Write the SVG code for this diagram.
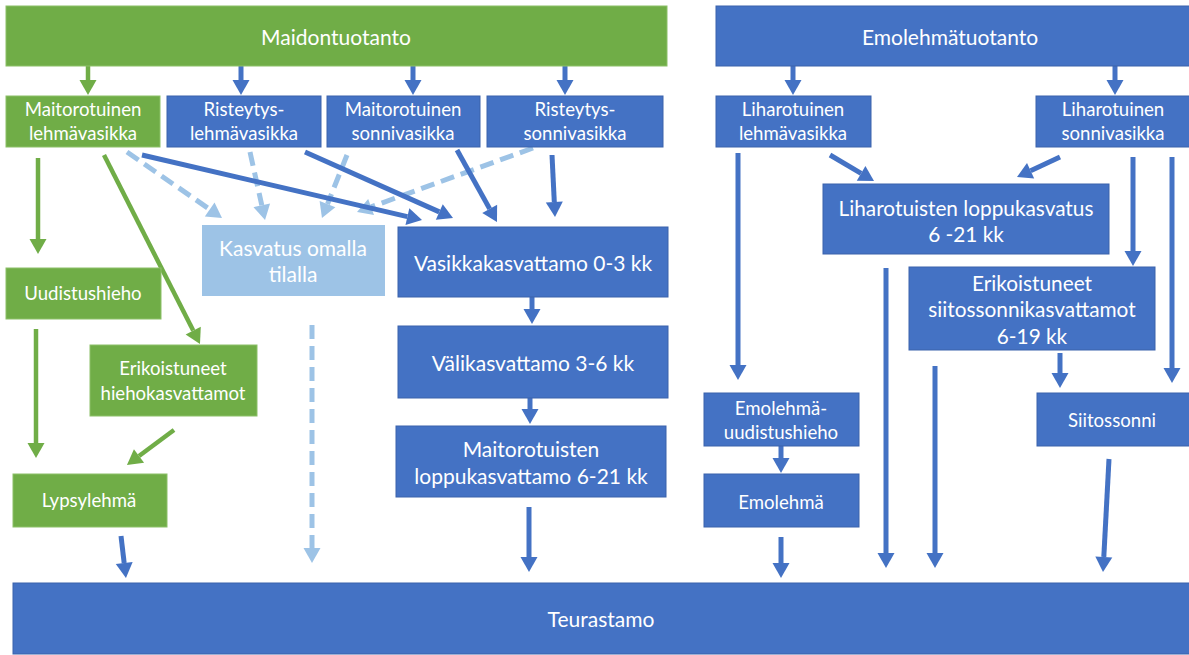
<svg xmlns="http://www.w3.org/2000/svg" width="1189" height="655" viewBox="0 0 1189 655">
<style>
.g{fill:#70AD47;stroke:#8CC068;stroke-width:1}
.b{fill:#4472C4;stroke:#3A62AB;stroke-width:1}
.lb{fill:#9DC3E6}
text{font-family:Lato,"Liberation Sans",sans-serif;fill:#fff;text-anchor:middle;dominant-baseline:central}
.s{font-size:18.6px}
.m{font-size:20.8px}
.l{font-size:21px}
.cb{stroke:#4472C4;stroke-width:5;fill:none}
.cg{stroke:#70AD47;stroke-width:4.5;fill:none}
.cl{stroke:#9DC3E6;stroke-width:5;fill:none;stroke-dasharray:14 7}
</style>
<defs>
<marker id="ab" markerUnits="userSpaceOnUse" markerWidth="16" markerHeight="18" refX="0" refY="8.5" orient="auto" overflow="visible"><path d="M0,0 L15,8.5 L0,17 z" fill="#4472C4"/></marker>
<marker id="ag" markerUnits="userSpaceOnUse" markerWidth="16" markerHeight="18" refX="0" refY="8.5" orient="auto" overflow="visible"><path d="M0,0 L15,8.5 L0,17 z" fill="#70AD47"/></marker>
<marker id="al" markerUnits="userSpaceOnUse" markerWidth="16" markerHeight="18" refX="0" refY="8.5" orient="auto" overflow="visible"><path d="M0,0 L15,8.5 L0,17 z" fill="#9DC3E6"/></marker>
</defs>

<g id="connectors">
<line class="cg" x1="88" y1="66" x2="88" y2="80" marker-end="url(#ag)"/>
<line class="cb" x1="241" y1="66" x2="241" y2="80" marker-end="url(#ab)"/>
<line class="cb" x1="413" y1="66" x2="413" y2="80" marker-end="url(#ab)"/>
<line class="cb" x1="565" y1="66" x2="565" y2="80" marker-end="url(#ab)"/>
<line class="cb" x1="793" y1="66" x2="793" y2="80" marker-end="url(#ab)"/>
<line class="cb" x1="1115" y1="66" x2="1115" y2="80" marker-end="url(#ab)"/>

<line class="cg" x1="38" y1="158" x2="38" y2="239" marker-end="url(#ag)"/>
<line class="cg" x1="36" y1="329" x2="36" y2="443" marker-end="url(#ag)"/>
<line class="cg" x1="104" y1="155" x2="193.2" y2="330.6" marker-end="url(#ag)"/>
<line class="cg" x1="174" y1="430" x2="139" y2="456" marker-end="url(#ag)"/>
<line class="cb" x1="121" y1="536" x2="124.2" y2="563.1" marker-end="url(#ab)"/>

<line class="cl" x1="127" y1="152" x2="209.7" y2="209.4" marker-end="url(#al)"/>
<line class="cl" x1="250" y1="152" x2="261.8" y2="205.3" marker-end="url(#al)"/>
<line class="cl" x1="347" y1="155" x2="327.5" y2="204.1" marker-end="url(#al)"/>
<line class="cl" x1="533" y1="148" x2="371.1" y2="206.9" marker-end="url(#al)"/>
<line class="cl" x1="312" y1="325" x2="312" y2="548" marker-end="url(#al)"/>

<line class="cb" x1="142" y1="155" x2="407.4" y2="216.6" marker-end="url(#ab)"/>
<line class="cb" x1="305" y1="152" x2="439.3" y2="211.9" marker-end="url(#ab)"/>
<line class="cb" x1="457" y1="150" x2="489.7" y2="208.9" marker-end="url(#ab)"/>
<line class="cb" x1="552" y1="155" x2="554.3" y2="202" marker-end="url(#ab)"/>

<line class="cb" x1="532" y1="297" x2="532" y2="309" marker-end="url(#ab)"/>
<line class="cb" x1="530" y1="398" x2="530" y2="409" marker-end="url(#ab)"/>
<line class="cb" x1="529" y1="507" x2="529" y2="557" marker-end="url(#ab)"/>

<line class="cb" x1="830" y1="155" x2="861.1" y2="173.4" marker-end="url(#ab)"/>
<line class="cb" x1="1060" y1="157" x2="1030.6" y2="170.7" marker-end="url(#ab)"/>
<line class="cb" x1="1133" y1="157" x2="1133" y2="251" marker-end="url(#ab)"/>
<line class="cb" x1="1172" y1="157" x2="1172" y2="368" marker-end="url(#ab)"/>
<line class="cb" x1="738" y1="153" x2="738" y2="365" marker-end="url(#ab)"/>
<line class="cb" x1="886" y1="268" x2="886" y2="553" marker-end="url(#ab)"/>
<line class="cb" x1="935" y1="366" x2="935" y2="553" marker-end="url(#ab)"/>
<line class="cb" x1="1060" y1="353" x2="1060" y2="373" marker-end="url(#ab)"/>
<line class="cb" x1="1109" y1="459" x2="1103.8" y2="557" marker-end="url(#ab)"/>
<line class="cb" x1="781" y1="446" x2="781" y2="458" marker-end="url(#ab)"/>
<line class="cb" x1="781" y1="537" x2="781" y2="563" marker-end="url(#ab)"/>
</g>

<g id="maidontuotanto"><rect class="g" x="6" y="6" width="661" height="60"/><text class="l" x="336" y="36">Maidontuotanto</text></g>
<g id="emolehmatuotanto"><rect class="b" x="716" y="6" width="480" height="60"/><text class="l" x="950" y="36">Emolehmätuotanto</text></g>

<g id="maitorotuinen-lehmavasikka"><rect class="g" x="6" y="96" width="154" height="51"/><text class="s" x="83" y="109">Maitorotuinen</text><text class="s" x="83" y="133">lehmävasikka</text></g>
<g id="risteytys-lehmavasikka"><rect class="b" x="167" y="96" width="154" height="51"/><text class="s" x="244" y="109">Risteytys-</text><text class="s" x="244" y="133">lehmävasikka</text></g>
<g id="maitorotuinen-sonnivasikka"><rect class="b" x="327" y="96" width="153" height="51"/><text class="s" x="403" y="109">Maitorotuinen</text><text class="s" x="403" y="133">sonnivasikka</text></g>
<g id="risteytys-sonnivasikka"><rect class="b" x="487" y="96" width="176" height="51"/><text class="s" x="575" y="109">Risteytys-</text><text class="s" x="575" y="133">sonnivasikka</text></g>
<g id="liharotuinen-lehmavasikka"><rect class="b" x="716" y="96" width="155" height="51"/><text class="s" x="793" y="109">Liharotuinen</text><text class="s" x="793" y="133">lehmävasikka</text></g>
<g id="liharotuinen-sonnivasikka"><rect class="b" x="1036" y="96" width="160" height="51"/><text class="s" x="1113" y="109">Liharotuinen</text><text class="s" x="1113" y="133">sonnivasikka</text></g>

<g id="liharotuisten-loppukasvatus"><rect class="b" x="823" y="184" width="286" height="70"/><text class="m" x="966" y="207">Liharotuisten loppukasvatus</text><text class="m" x="966" y="233">6 -21 kk</text></g>
<g id="siitossonnikasvattamot"><rect class="b" x="909" y="267" width="246" height="83"/><text class="m" x="1032" y="282">Erikoistuneet</text><text class="m" x="1032" y="308">siitossonnikasvattamot</text><text class="m" x="1032" y="335">6-19 kk</text></g>
<g id="siitossonni"><rect class="b" x="1037" y="393" width="159" height="53"/><text class="s" x="1112" y="420">Siitossonni</text></g>
<g id="emolehma-uudistushieho"><rect class="b" x="704" y="393" width="155" height="53"/><text class="s" x="781" y="408">Emolehmä-</text><text class="s" x="781" y="432">uudistushieho</text></g>
<g id="emolehma"><rect class="b" x="704" y="474" width="155" height="53"/><text class="s" x="781" y="502">Emolehmä</text></g>

<g id="kasvatus-omalla-tilalla"><rect class="lb" x="202" y="225" width="183" height="71"/><text class="l" x="293" y="247">Kasvatus omalla</text><text class="l" x="293" y="273">tilalla</text></g>
<g id="vasikkakasvattamo"><rect class="b" x="398" y="227" width="270" height="70"/><text class="l" x="533" y="262">Vasikkakasvattamo 0-3 kk</text></g>
<g id="valikasvattamo"><rect class="b" x="398" y="326" width="270" height="72"/><text class="l" x="533" y="362">Välikasvattamo 3-6 kk</text></g>
<g id="maitorotuisten-loppukasvattamo"><rect class="b" x="396" y="426" width="270" height="71"/><text class="l" x="531" y="448">Maitorotuisten</text><text class="l" x="531" y="475">loppukasvattamo 6-21 kk</text></g>

<g id="uudistushieho"><rect class="g" x="6" y="268" width="155" height="51"/><text class="s" x="83" y="293">Uudistushieho</text></g>
<g id="hiehokasvattamot"><rect class="g" x="90" y="345" width="167" height="71"/><text class="s" x="173" y="368">Erikoistuneet</text><text class="s" x="173" y="393">hiehokasvattamot</text></g>
<g id="lypsylehma"><rect class="g" x="13" y="474" width="154" height="53"/><text class="s" x="89" y="500">Lypsylehmä</text></g>

<g id="teurastamo"><rect class="b" x="13" y="583" width="1183" height="71"/><text class="l" x="601" y="618">Teurastamo</text></g>
</svg>
